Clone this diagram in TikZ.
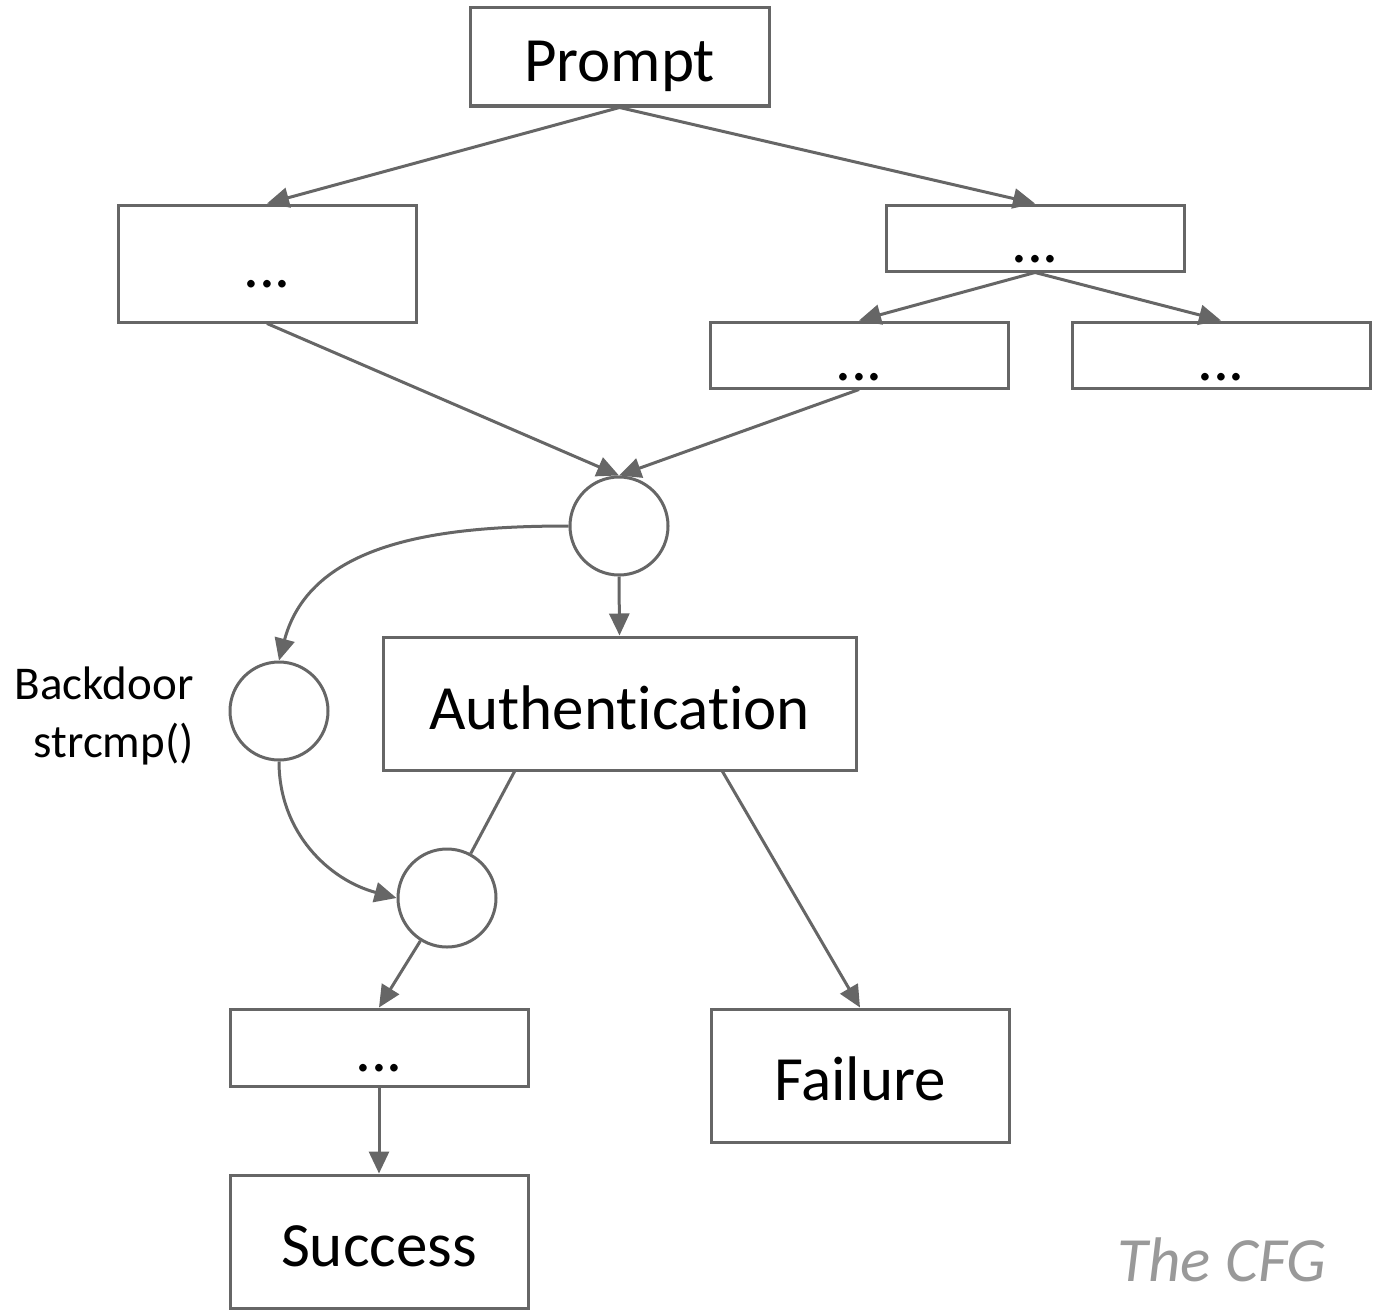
\documentclass[tikz,border=0pt]{standalone}
\usepackage{fontspec}
\setmainfont{Carlito}[RawFeature={-liga;-clig}]
\usetikzlibrary{arrows.meta,calc}
\definecolor{edge}{HTML}{666666}
\definecolor{cap}{HTML}{999999}
\begin{document}
\begin{tikzpicture}[x=0.5pt,y=0.5pt,
  box/.style={draw=edge,line width=1.5pt,rectangle,inner sep=0pt},
  circ/.style={draw=edge,line width=1.5pt,circle,inner sep=0pt,minimum size=49pt},
  big/.style={font=\fontsize{31.5}{36}\selectfont,inner sep=0pt,anchor=base},
  small/.style={font=\fontsize{23.5}{29}\selectfont,inner sep=0pt},
  conn/.style={draw=edge,line width=1.5pt,-{Triangle[length=11pt,width=10pt]}},
  plain/.style={draw=edge,line width=1.5pt}]
\useasboundingbox (0,0) rectangle (1379,-1311);
% boxes
\node[box,minimum width=149.5pt,minimum height=49pt] (prompt) at (619.5,-57) {};
\node[big] (promptt) at (619.5,-82) {Prompt};
\node[box,minimum width=149pt,minimum height=58.5pt] (l1) at (267,-263.5) {};
\node[big] (l1t) at (267,-287) {...};
\node[box,minimum width=149pt,minimum height=33pt] (r1) at (1035,-238) {};
\node[big] (r1t) at (1035,-262) {...};
\node[box,minimum width=149pt,minimum height=33pt] (r2a) at (859,-355) {};
\node[big] (r2at) at (859,-380) {...};
\node[box,minimum width=149pt,minimum height=33pt] (r2b) at (1221,-355) {};
\node[big] (r2bt) at (1221,-380) {...};
\node[circ] (c1) at (619,-526) {};
\node[box,minimum width=236.5pt,minimum height=66.5pt] (auth) at (619.5,-703.5) {};
\node[big] (autht) at (619.5,-729) {Authent\kern0pt icat\kern0pt ion};
\node[circ] (c2) at (279,-711) {};
\node[circ] (c3) at (447,-898) {};
\node[box,minimum width=149pt,minimum height=38.5pt] (d) at (379,-1047.5) {};
\node[big] (dt) at (379,-1071) {...};
\node[box,minimum width=149pt,minimum height=66.5pt] (succ) at (379,-1241.5) {};
\node[big] (succt) at (379,-1266) {Success};
\node[box,minimum width=149pt,minimum height=66.5pt] (fail) at (860,-1075.5) {};
\node[big] (failt) at (860,-1100) {Failure};
\node[small,align=right,anchor=east] (bd) at (194,-716) {Backdoor\\strcmp()};
\node[big,text=cap,font=\fontsize{31.5}{36}\selectfont\itshape] (cfg) at (1222,-1281) {The CFG};
% connectors
\draw[conn] (prompt.south) -- (l1.north);
\draw[conn] (prompt.south) -- (r1.north);
\draw[conn] (r1.south) -- (r2a.north);
\draw[conn] (r1.south) -- (r2b.north);
\draw[conn] (l1.south) -- (c1.north);
\draw[conn] (r2a.south) -- (c1.north);
\draw[conn] (c1.south) -- (auth.north);
\draw[conn] (c1.west) to[out=180,in=75] (c2.north);
\draw[conn] (c2.south) to[out=-90,in=165] (c3.west);
\draw[plain] ($(auth.south west)+(133,0)$) -- (c3);
\draw[conn] ($(auth.south west)+(341,0)$) -- (fail.north);
\draw[conn] (c3) -- (d.north);
\draw[conn] (d.south) -- (succ.north);
\end{tikzpicture}
\end{document}
